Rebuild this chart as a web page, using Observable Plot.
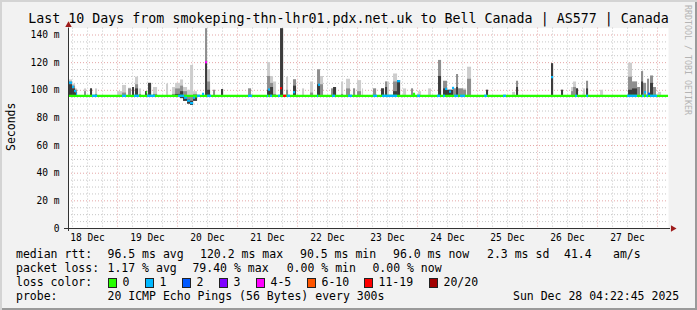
<!DOCTYPE html>
<html><head><meta charset="utf-8">
<script src="https://cdn.jsdelivr.net/npm/d3@7"></script>
<script src="https://cdn.jsdelivr.net/npm/@observablehq/plot@0.6"></script>
<style>
html,body{margin:0;padding:0;background:#f2f2f2;}
#wrap{position:relative;width:697px;height:310px;background:#f2f2f2;overflow:hidden;font-family:"DejaVu Sans Mono",monospace;color:#000;
  box-shadow: inset 2px 2px 0 #d4d4d4, inset -2px -2px 0 #9a9a9a;}
#wrap svg{position:absolute;left:0;top:0;}
.t{position:absolute;white-space:pre;font-size:11.5px;line-height:14px;}
.title{position:absolute;left:0;width:697px;top:11px;text-align:center;font-size:13.3px;line-height:16px;white-space:pre;}
.sw{position:absolute;width:7px;height:8px;border:1px solid #222;}
.ylab{position:absolute;font-size:11.5px;line-height:14px;white-space:pre;transform:rotate(-90deg);transform-origin:center center;}
.rrd{position:absolute;font-size:8.3px;line-height:10px;color:#b4b4b4;white-space:pre;transform-origin:left top;transform:rotate(90deg);}
</style></head><body><div id="wrap"></div>
<script>
// ---------- data ----------
const titleText = "Last 10 Days from smokeping-thn-lhr01.pdx.net.uk to Bell Canada | AS577 | Canada";
const endTime = "2025-12-28T04:22:45Z";
const lossLabels = ["0","1","2","3","4-5","6-10","11-19","20/20"];
const lossColors = ["#26ff00","#00b8ff","#0059ff","#7e00ff","#ff00ff","#ff5500","#ff0000","#a10000"];
const yTicks = [0,20,40,60,80,100,120,140];
const yTickLabels = ["0","20 m","40 m","60 m","80 m","100 m","120 m","140 m"];
const xTickDays = [18.5,19.5,20.5,21.5,22.5,23.5,24.5,25.5,26.5,27.5];
const xTickLabels = ["18 Dec","19 Dec","20 Dec","21 Dec","22 Dec","23 Dec","24 Dec","25 Dec","26 Dec","27 Dec"];

// smoke columns (day-of-December), low / dark / mid / light tops in ms
const smokeStart = [18.183,18.250,18.300,18.450,18.550,18.633,19.000,19.083,19.183,19.250,
 19.300,19.367,19.467,19.517,19.600,19.817,19.917,19.967,20.050,20.100,
 20.167,20.217,20.267,20.467,20.500,20.600,20.733,21.183,21.500,21.550,
 21.600,21.717,21.817,21.933,22.083,22.217,22.333,22.383,22.567,22.600,
 22.733,22.817,22.933,23.000,23.083,23.267,23.400,23.467,23.500,23.600,
 23.667,23.767,23.900,24.017,24.183,24.350,24.433,24.500,24.550,24.600,
 24.650,24.683,24.767,24.833,25.150,25.583,25.650,26.233,26.400,26.567,
 26.600,26.650,26.767,26.817,27.050,27.517,27.583,27.667,27.733,27.767,
 27.833,27.883,27.933,28.017];
const smokeEnd = [18.250,18.300,18.333,18.483,18.583,18.667,19.083,19.150,19.233,19.283,
 19.350,19.400,19.500,19.567,19.667,19.850,19.967,20.050,20.100,20.167,
 20.217,20.267,20.333,20.500,20.550,20.633,20.767,21.233,21.550,21.600,
 21.650,21.767,21.850,21.983,22.117,22.267,22.383,22.433,22.600,22.650,
 22.767,22.883,22.967,23.067,23.100,23.317,23.450,23.500,23.533,23.667,
 23.717,23.817,23.933,24.067,24.233,24.400,24.500,24.550,24.600,24.650,
 24.683,24.767,24.817,24.900,25.183,25.633,25.683,26.267,26.433,26.600,
 26.650,26.683,26.800,26.850,27.100,27.583,27.667,27.717,27.767,27.817,
 27.867,27.933,27.983,28.067];
const smokeLow = [96,96,95.5,96,96,96,96,96,96,96,
 96,96,96,96,96,96,96,95,94,92,
 90,89,92,96,96,96,96,96,96,96,
 96,96,96,96,96,96,96,96,96,96,
 96,96,96,96,96,96,96,96,96,96,
 96,96,96,96,96,96,96,96,96,96,
 96,96,96,96,96,96,96,96,96,96,
 96,96,96,96,96,96,96,96,96,96,
 96,96,96,96];
const smokeDark = [104,101,98,96,101,96,96,96,96,102,
 101,96,99,105,96,96,96,97,99,95,
 93,92,95,120,100,96,100.5,96,100,102,
 96,144.5,96,103,96,96,104,96,96,102,
 96,96,96,96,96,96,101,102,96,99,
 107,96,96,96,96,110,101,100,100,96,
 102,96,96,96,100,96,102,119.2,100,96,
 96,101,96,101,96,100,101,96,106,96,
 96,105,96,96];
const smokeMid = [106,103,100,99,101,97,96,98,101,102,
 104,97,99,105,97,96,97,101,103,99,
 96,96,97,144.5,106,100,100.5,101,110,105,
 97,144.5,100,107.6,96,98,114.8,104,101,102,
 97,101,101,99,96,101,101,106,96,106,
 107,96,101,96,96,121.6,106.5,100,100,101,
 111.4,101,100,108,100,96,106.5,119.2,100,99,
 102,101,96,106.5,96,109.5,106,102,113.5,105,
 108,110.3,102,96];
const smokeLight = [107.5,104.5,101,101,101,101,99,103.5,101.5,102,
 109.5,101,99,105,102,104.5,102,105,107.5,102,
 100,118,99,144.5,114.8,100,100.5,101,120,110,
 106,144.5,109.5,107.6,101,106,114.8,110,101,102,
 106,108,101,107,101,101,101,106,106,111.8,
 107,101,101,99,101,121.6,106.5,100,100,101,
 111.4,101,101,116.7,100,98.5,106.5,119.2,100,102,
 106,101,101,106.5,100,119.6,106,102,113.5,105,
 108,110.3,102,98.5];

// median rtt runs (day-of-December), value in ms, loss class
const medStart = [18.183,18.183,18.250,18.283,18.317,18.583,19.083,19.283,19.483,19.500,
 20.017,20.117,20.167,20.217,20.267,20.300,20.333,20.417,20.467,20.500,
 21.183,21.500,21.517,21.550,21.683,21.717,21.767,21.833,21.933,22.333,
 22.350,22.583,22.850,23.267,23.417,23.667,23.933,24.000,24.333,24.433,
 24.467,24.533,24.583,24.617,24.717,25.117,25.433,26.233,26.633,26.817,
 27.500,27.750,27.783,27.817,27.850,27.883];
const medEnd = [28.183,18.250,18.283,18.317,18.333,18.667,19.150,19.367,19.500,19.633,
 20.117,20.167,20.217,20.267,20.300,20.333,20.383,20.450,20.500,20.567,
 21.250,21.517,21.550,21.583,21.717,21.750,21.817,21.883,21.967,22.350,
 22.383,22.633,22.917,23.333,23.667,23.717,23.967,24.050,24.383,24.467,
 24.500,24.567,24.617,24.683,24.800,25.167,25.483,26.267,26.667,26.850,
 27.667,27.783,27.817,27.850,27.883,28.000];
const medValue = [96,105.5,102.5,99.5,97.5,96,96,96,98.5,96,
 96,94.6,92.5,90.7,94.6,95.5,96,97.4,120.3,96,
 96,96,100.5,96,96,101.5,96,96,98.6,96,
 104,96,96,96,96,106.6,97.4,96,96,96,
 101,99,101.7,96,96,96,96,109.5,96,96,
 96,96,98.6,96,97.5,96];
const medLoss = ["0","1","1","1","1","1","1","1","0","1",
 "1","1","1","1","1","0","1","1","4-5","1",
 "1","1","1","1","1","11-19","11-19","1","1","1",
 "1","1","1","1","1","1","0","1","1","1",
 "1","1","1","1","1","1","1","1","1","1",
 "1","1","1","1","2","1"];

// legend statistics
const rttValues = ["96.5","120.2","90.5","96.0","2.3"];
const rttUnits = ["ms avg","ms max","ms min","ms now","ms sd"];
const amsValue = "41.4";
const lossValues = ["1.17","79.40","0.00","0.00"];
const lossUnits = ["% avg","% max","% min","% now"];
const probeText = "20 ICMP Echo Pings (56 Bytes) every 300s";
const stampText = "Sun Dec 28 04:22:45 2025";

// ---------- build ----------
const toDate = d => new Date(Date.UTC(2025, 10, 30) + d * 864e5);
const end = new Date(endTime);
const start = new Date(+end - 10 * 864e5);
const smoke = smokeStart.map((s, i) => ({t0: toDate(s), t1: toDate(smokeEnd[i]), lo: smokeLow[i],
  dark: smokeDark[i], mid: smokeMid[i], light: smokeLight[i]}));
const med = medStart.map((s, i) => ({t0: toDate(s), t1: toDate(medEnd[i]), v: medValue[i], loss: medLoss[i]}));
const xTickDates = xTickDays.map(toDate);
const minorY = d3.range(5, 145, 5).filter(v => v % 20 !== 0);
const majorY = yTicks.filter(v => v > 0);
const minorX = d3.utcHour.every(6).range(start, end).filter(d => d.getUTCHours() !== 0);
const majorX = d3.utcDay.range(start, end);
const gridFine = "#c6c6c6", gridMajor = "#e4a6a6", arrow = "#9e1b1b";

const chart = Plot.plot({
  width: 697, height: 250,
  marginLeft: 68, marginRight: 29, marginTop: 27.6, marginBottom: 22,
  x: {type: "utc", domain: [start, end]},
  y: {domain: [0, 145]},
  color: {domain: lossLabels, range: lossColors},
  style: {background: "transparent", fontFamily: "'DejaVu Sans Mono', monospace", fontSize: "9.6px", color: "#000", overflow: "visible"},
  marks: [
    Plot.frame({fill: "white", stroke: "none"}),
    Plot.ruleY(minorY, {stroke: gridFine, strokeDasharray: "1,2"}),
    Plot.ruleX(minorX, {stroke: gridFine, strokeDasharray: "1,2"}),
    Plot.ruleY(majorY, {stroke: gridMajor, strokeDasharray: "1,2"}),
    Plot.ruleX(majorX, {stroke: gridMajor, strokeDasharray: "1,2"}),
    Plot.rect(smoke.filter(d => d.light > d.lo), {x1: "t0", x2: "t1", y1: "lo", y2: "light", fill: "#cdcdcd"}),
    Plot.rect(smoke.filter(d => d.mid > d.lo), {x1: "t0", x2: "t1", y1: "lo", y2: "mid", fill: "#8e8e8e"}),
    Plot.rect(smoke.filter(d => d.dark > d.lo), {x1: "t0", x2: "t1", y1: "lo", y2: "dark", fill: "#3c3c3c"}),
    Plot.ruleY(med, {x1: "t0", x2: "t1", y: "v", stroke: "loss", strokeWidth: 2.3}),
    Plot.ruleY([0], {stroke: "#333", insetLeft: -4, insetRight: -2}),
    Plot.ruleX([start], {stroke: "#333", insetBottom: -3}),
    Plot.dot([{t: end, v: 0}], {x: "t", y: "v", symbol: "triangle", rotate: 90, r: 2.4, fill: arrow, stroke: "none", dx: 4.3}),
    Plot.dot([{t: start, v: 145}], {x: "t", y: "v", symbol: "triangle", r: 2.4, fill: arrow, stroke: "none", dy: -3}),
    Plot.axisY({ticks: yTicks, tickFormat: d => yTickLabels[yTicks.indexOf(d)], tickSize: 0, tickPadding: 9, label: null}),
    Plot.axisX({ticks: xTickDates, tickFormat: d => xTickLabels[xTickDates.findIndex(t => +t === +d)], tickSize: 0, tickPadding: 6, label: null})
  ]
});

const wrap = document.getElementById("wrap");
wrap.appendChild(chart);

function txt(s, x, y, cls) {
  const el = document.createElement("div");
  el.className = cls || "t";
  el.textContent = s;
  el.style.left = x + "px";
  el.style.top = y + "px";
  wrap.appendChild(el);
  return el;
}
const title = document.createElement("div");
title.className = "title";
title.textContent = titleText;
wrap.appendChild(title);

// Y label
const yl = txt("Seconds", 0, 0, "ylab");
yl.style.left = (10.5 - 24) + "px"; yl.style.top = (127 - 7) + "px"; yl.style.width = "48px"; yl.style.textAlign = "center";
// rrdtool stamp
txt("RRDTOOL / TOBI OETIKER", 693, 5, "rrd");

// Legend rows
const r1 = 247, r2 = 261, r3 = 275, r4 = 289;
txt("median rtt:", 16, r1);
const rttX = [107.5, 200, 300, 393, 487];
rttValues.forEach((v, i) => txt(v + " " + rttUnits[i], rttX[i], r1));
txt(amsValue, 564, r1);
txt("am/s", 613, r1);

txt("packet loss:", 16, r2);
const lossX = [107.5, 192.4, 286.7, 372.4];
lossValues.forEach((v, i) => txt(v + " " + lossUnits[i], lossX[i], r2));

txt("loss color:", 16, r3);
const swX = [108, 145, 182, 219, 256, 307, 364, 429];
lossLabels.forEach((l, i) => {
  const sw = document.createElement("div");
  sw.className = "sw";
  sw.style.left = swX[i] + "px";
  sw.style.top = (r3 + 2.5) + "px";
  sw.style.background = lossColors[i];
  wrap.appendChild(sw);
  txt(l, swX[i] + 14.5, r3);
});

txt("probe:", 16, r4);
txt(probeText, 107.5, r4);
txt(stampText, 513, r4);
</script>
</body></html>
